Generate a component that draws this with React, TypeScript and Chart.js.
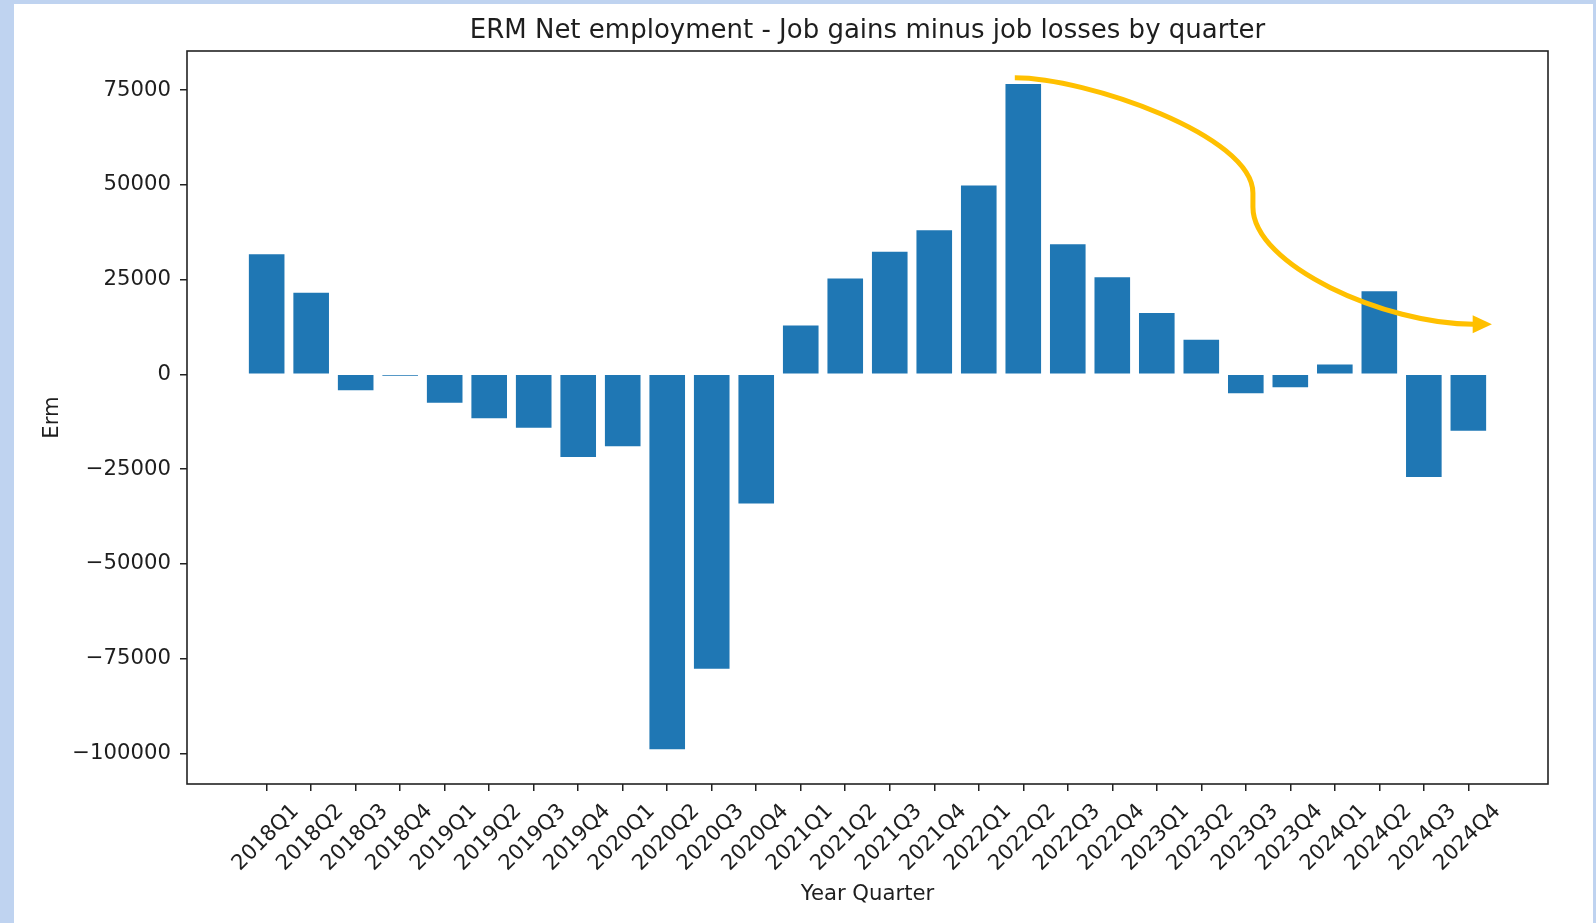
import React, { useEffect, useRef } from 'react';
import { Chart, registerables } from 'chart.js';

Chart.register(...registerables);

// ---------- data ----------
const quarters = [
  '2018Q1', '2018Q2', '2018Q3', '2018Q4',
  '2019Q1', '2019Q2', '2019Q3', '2019Q4',
  '2020Q1', '2020Q2', '2020Q3', '2020Q4',
  '2021Q1', '2021Q2', '2021Q3', '2021Q4',
  '2022Q1', '2022Q2', '2022Q3', '2022Q4',
  '2023Q1', '2023Q2', '2023Q3', '2023Q4',
  '2024Q1', '2024Q2', '2024Q3', '2024Q4',
];

const netEmployment = [
  31700, 21500, -4200, -400,
  -7500, -11600, -14100, -21800,
  -19000, -98900, -77700, -34100,
  12900, 25300, 32300, 38000,
  49800, 76600, 34300, 25600,
  16200, 9100, -5000, -3400,
  2600, 21900, -27100, -14900,
];

const yTickValues = [-100000, -75000, -50000, -25000, 0, 25000, 50000, 75000];
const xRange = [-1.79, 28.79];
const yRange = [-108100, 85300];

// hand-drawn trend arrow, in data units (x = quarter index, y = value)
// cubic segment 1, short vertical joint, cubic segment 2, arrow tip
const arrowX = [16.81, 18.41, 22.16, 22.16, 22.16, 22.16, 25.15, 27.12, 27.53];
const arrowY = [78260, 78260, 63060, 47840, 44140, 28650, 13190, 13190, 13190];

const TITLE = 'ERM Net employment - Job gains minus job losses by quarter';
const FONT = "'DejaVu Sans', sans-serif";
const TEXT = '#1e1e1e';
const TICK_SIZE = 21.2;

const fmt = (v: number) => (v < 0 ? '\u2212' + Math.abs(v) : String(v));

const framePlugin = {
  id: 'frame',
  afterDraw(chart: any) {
    const { ctx, chartArea: a } = chart;
    ctx.save();
    ctx.strokeStyle = '#222';
    ctx.lineWidth = 1.6;
    ctx.strokeRect(a.left, a.top, a.right - a.left, a.bottom - a.top);
    ctx.restore();
  },
};

const arrowPlugin = {
  id: 'trendArrow',
  afterDraw(chart: any) {
    const { ctx } = chart;
    const xs = chart.scales.x;
    const ys = chart.scales.y;
    const p = arrowX.map((x, i) => [xs.getPixelForValue(x), ys.getPixelForValue(arrowY[i])]);
    ctx.save();
    ctx.strokeStyle = '#FFC000';
    ctx.fillStyle = '#FFC000';
    ctx.lineWidth = 5;
    ctx.lineCap = 'butt';
    ctx.lineJoin = 'round';
    ctx.beginPath();
    ctx.moveTo(p[0][0], p[0][1]);
    ctx.bezierCurveTo(p[1][0], p[1][1], p[2][0], p[2][1], p[3][0], p[3][1]);
    ctx.lineTo(p[4][0], p[4][1]);
    ctx.bezierCurveTo(p[5][0], p[5][1], p[6][0], p[6][1], p[7][0], p[7][1]);
    ctx.stroke();
    // head
    const tip = p[8];
    const base = p[7];
    ctx.beginPath();
    ctx.moveTo(tip[0], tip[1]);
    ctx.lineTo(base[0] - 1, base[1] - 9);
    ctx.lineTo(base[0] - 1, base[1] + 9);
    ctx.closePath();
    ctx.fill();
    ctx.restore();
  },
};

export default function App() {
  const ref = useRef<HTMLCanvasElement | null>(null);

  useEffect(() => {
    if (!ref.current) return;
    const chart = new Chart(ref.current, {
      type: 'bar',
      data: {
        datasets: [
          {
            data: netEmployment.map((v, i) => ({ x: i, y: v })),
            backgroundColor: '#1f77b4',
            borderWidth: 0,
            barPercentage: 0.8,
            categoryPercentage: 1.0,
          },
        ],
      },
      options: {
        responsive: false,
        animation: false,
        devicePixelRatio: 1,
        layout: { padding: { left: 0, right: 48, top: 0, bottom: 0 } },
        plugins: {
          legend: { display: false },
          tooltip: { enabled: false },
          title: {
            display: true,
            fullSize: false,
            text: TITLE,
            color: TEXT,
            font: { family: FONT, size: 26, weight: 'normal' },
            padding: { top: 16, bottom: 3.8 },
          },
        },
        scales: {
          x: {
            type: 'linear',
            min: xRange[0],
            max: xRange[1],
            offset: false,
            afterBuildTicks: (s: any) => {
              s.ticks = quarters.map((_, i) => ({ value: i }));
            },
            afterFit: (s: any) => {
              s.height = 139;
            },
            grid: {
              drawOnChartArea: false,
              drawTicks: true,
              tickLength: 7,
              color: '#222',
              lineWidth: 1.5,
              offset: false,
            },
            border: { display: false },
            ticks: {
              autoSkip: false,
              minRotation: 45,
              maxRotation: 45,
              labelOffset: 29,
              padding: 8,
              color: TEXT,
              font: { family: FONT, size: TICK_SIZE },
              callback: (v: any) => quarters[v] ?? '',
            },
            title: {
              display: true,
              text: 'Year Quarter',
              color: TEXT,
              font: { family: FONT, size: TICK_SIZE },
              padding: { top: 0, bottom: 15.4 },
            },
          },
          y: {
            type: 'linear',
            min: yRange[0],
            max: yRange[1],
            afterBuildTicks: (s: any) => {
              s.ticks = yTickValues.map((v) => ({ value: v }));
            },
            afterFit: (s: any) => {
              s.width = 187;
            },
            grid: {
              drawOnChartArea: false,
              drawTicks: true,
              tickLength: 7,
              color: '#222',
              lineWidth: 1.5,
            },
            border: { display: false },
            ticks: {
              padding: 9,
              color: TEXT,
              font: { family: FONT, size: TICK_SIZE },
              callback: (v: any) => fmt(Number(v)),
            },
            title: {
              display: true,
              text: 'Erm',
              color: TEXT,
              font: { family: FONT, size: TICK_SIZE },
              padding: { top: 39.5, bottom: 0 },
            },
          },
        },
      },
      plugins: [framePlugin, arrowPlugin],
    } as any);
    return () => chart.destroy();
  }, []);

  return (
    <div
      style={{
        position: 'fixed',
        left: 0,
        top: 0,
        width: 1596,
        height: 923,
        background: 'rgb(191, 211, 240)',
        overflow: 'hidden',
      }}
    >
      <div
        style={{
          position: 'absolute',
          left: 14,
          top: 4,
          width: 1579,
          height: 919,
          background: '#ffffff',
        }}
      />
      <canvas
        ref={ref}
        width={1596}
        height={923}
        style={{ position: 'absolute', left: 0, top: 0, width: 1596, height: 923 }}
      />
    </div>
  );
}
